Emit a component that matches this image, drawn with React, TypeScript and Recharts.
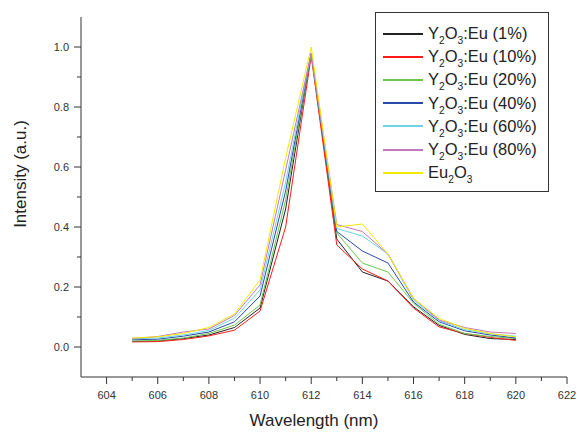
import React from 'react';
import { LineChart, Line, XAxis, YAxis, Legend } from 'recharts';

const wavelengths = [605, 606, 607, 608, 609, 610, 611, 612, 613, 614, 615, 616, 617, 618, 619, 620];

const eu1 = [0.018, 0.02, 0.028, 0.04, 0.065, 0.13, 0.46, 0.98, 0.36, 0.25, 0.22, 0.134, 0.072, 0.042, 0.028, 0.025];
const eu10 = [0.017, 0.018, 0.025, 0.037, 0.056, 0.12, 0.4, 0.97, 0.34, 0.26, 0.22, 0.13, 0.067, 0.045, 0.032, 0.022];
const eu20 = [0.02, 0.022, 0.03, 0.045, 0.073, 0.14, 0.49, 0.98, 0.38, 0.28, 0.25, 0.146, 0.076, 0.045, 0.035, 0.028];
const eu40 = [0.024, 0.026, 0.036, 0.05, 0.084, 0.17, 0.52, 0.98, 0.385, 0.32, 0.28, 0.15, 0.084, 0.054, 0.04, 0.03];
const eu60 = [0.027, 0.03, 0.04, 0.055, 0.096, 0.19, 0.55, 0.98, 0.395, 0.37, 0.31, 0.157, 0.088, 0.058, 0.044, 0.036];
const eu80 = [0.028, 0.035, 0.05, 0.06, 0.105, 0.207, 0.59, 0.98, 0.408, 0.385, 0.31, 0.162, 0.09, 0.065, 0.05, 0.045];
const eu2o3 = [0.03, 0.034, 0.045, 0.065, 0.11, 0.224, 0.63, 1.0, 0.4, 0.41, 0.31, 0.162, 0.095, 0.062, 0.045, 0.034];

const xTicks = [604, 605, 606, 607, 608, 609, 610, 611, 612, 613, 614, 615, 616, 617, 618, 619, 620, 621, 622];
const yTicks = [0, 0.1, 0.2, 0.3, 0.4, 0.5, 0.6, 0.7, 0.8, 0.9, 1.0];

const series = [
  { key: 'eu1', values: eu1, color: '#222222', name: 'Y2O3:Eu (1%)', pct: '1%' },
  { key: 'eu10', values: eu10, color: '#ff1a1a', name: 'Y2O3:Eu (10%)', pct: '10%' },
  { key: 'eu20', values: eu20, color: '#6cc84c', name: 'Y2O3:Eu (20%)', pct: '20%' },
  { key: 'eu40', values: eu40, color: '#2a4aa8', name: 'Y2O3:Eu (40%)', pct: '40%' },
  { key: 'eu60', values: eu60, color: '#70d4e6', name: 'Y2O3:Eu (60%)', pct: '60%' },
  { key: 'eu80', values: eu80, color: '#c478be', name: 'Y2O3:Eu (80%)', pct: '80%' },
  { key: 'eu2o3', values: eu2o3, color: '#f2ea00', name: 'Eu2O3', pct: '' },
];

const data = wavelengths.map((w, i) => {
  const row: Record<string, number> = { w };
  series.forEach((s) => (row[s.key] = s.values[i]));
  return row;
});

const FONT = '"Liberation Sans", Arial, sans-serif';
const AXIS = '#333333';

const XTick = (props: any) => {
  const { x, y, payload } = props;
  const v = payload.value;
  const major = v % 2 === 0;
  return (
    <g>
      <line x1={x} x2={x} y1={y} y2={y + (major ? 7 : 4)} stroke={AXIS} />
      {major && (
        <text x={x} y={y + 22} textAnchor="middle" fontSize={11} fill={AXIS} fontFamily={FONT}>
          {v}
        </text>
      )}
    </g>
  );
};

const YTick = (props: any) => {
  const { x, y, payload } = props;
  const v = payload.value;
  const major = Math.round(v * 10) % 2 === 0;
  return (
    <g>
      <line x1={x} x2={x - (major ? 7 : 4)} y1={y} y2={y} stroke={AXIS} />
      {major && (
        <text x={x - 12} y={y + 4} textAnchor="end" fontSize={11} fill={AXIS} fontFamily={FONT}>
          {v.toFixed(1)}
        </text>
      )}
    </g>
  );
};

const sub = { fontSize: '0.62em', verticalAlign: '-0.45em', lineHeight: 0 } as React.CSSProperties;

const renderLegend = () => (
  <div
    style={{
      border: '1px solid #333',
      background: '#fff',
      width: 174,
      height: 180,
      boxSizing: 'border-box',
      padding: '9px 0 0 7px',
      fontFamily: FONT,
      fontSize: 16.5,
      color: '#222',
    }}
  >
    {series.map((s) => (
      <div key={s.key} style={{ display: 'flex', alignItems: 'center', height: 23.2 }}>
        <div style={{ width: 40, height: 2, background: s.color, marginRight: 5 }} />
        {s.pct ? (
          <span>
            Y<span style={sub}>2</span>O<span style={sub}>3</span>:Eu ({s.pct})
          </span>
        ) : (
          <span>
            Eu<span style={sub}>2</span>O<span style={sub}>3</span>
          </span>
        )}
      </div>
    ))}
  </div>
);

export default function App() {
  return (
    <div style={{ position: 'absolute', left: 0, top: 0, width: 580, height: 435, background: '#fff' }}>
      <LineChart width={580} height={435} data={data} margin={{ top: 17, right: 13, bottom: 18, left: 21 }}>
        <XAxis
          dataKey="w"
          type="number"
          domain={[603, 622]}
          ticks={xTicks}
          interval={0}
          tickSize={0}
          tickMargin={0}
          tickLine={false}
          tick={<XTick />}
          height={40}
          axisLine={{ stroke: AXIS }}
          label={{
            content: () => (
              <text x={314} y={420} textAnchor="middle" dominantBaseline="central" fontSize={17} fill="#222" fontFamily={FONT}>
                Wavelength (nm)
              </text>
            ),
          }}
        />
        <YAxis
          type="number"
          domain={[-0.1, 1.1]}
          ticks={yTicks}
          interval={0}
          tickSize={0}
          tickMargin={0}
          tickLine={false}
          tick={<YTick />}
          width={60}
          axisLine={{ stroke: AXIS }}
          label={{
            content: () => (
              <text
                x={20}
                y={174}
                transform="rotate(-90 20 174)"
                textAnchor="middle"
                dominantBaseline="central"
                fontSize={17}
                fill="#222"
                fontFamily={FONT}
              >
                Intensity (a.u.)
              </text>
            ),
          }}
        />
        <Legend
          layout="vertical"
          align="center"
          verticalAlign="middle"
          content={renderLegend}
          wrapperStyle={{ position: 'absolute', left: 375, top: 12, width: 174, height: 180 }}
        />
        {series.map((s) => (
          <Line
            key={s.key}
            type="linear"
            dataKey={s.key}
            name={s.name}
            stroke={s.color}
            strokeWidth={1}
            dot={false}
            activeDot={false}
            isAnimationActive={false}
          />
        ))}
      </LineChart>
    </div>
  );
}
